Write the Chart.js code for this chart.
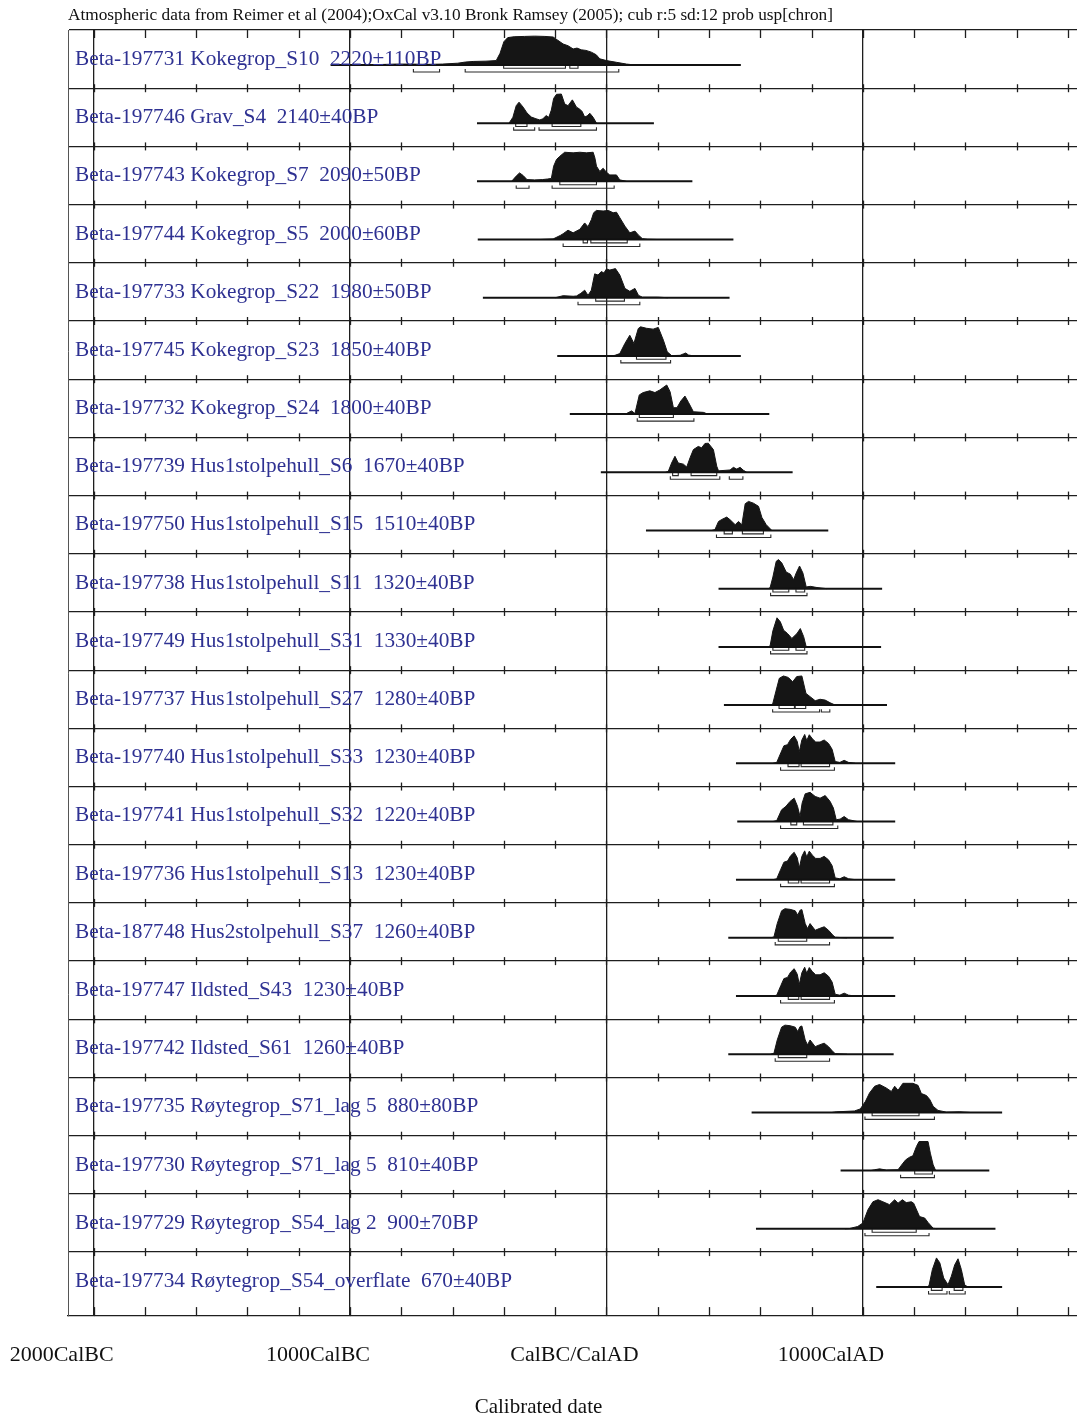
<!DOCTYPE html>
<html>
<head>
<meta charset="utf-8">
<title>OxCal multiplot</title>
<script src="https://cdn.jsdelivr.net/npm/chart.js@4.4.1/dist/chart.umd.min.js"></script>
<style>
    html, body { margin: 0; padding: 0; background: #fff; }
    canvas { display: block; }
</style>
</head>
<body>
<canvas id="graficoOxcal" width="1077" height="1416"></canvas>
<script>
const header = 'Atmospheric data from Reimer et al (2004);OxCal v3.10 Bronk Ramsey (2005); cub r:5 sd:12 prob usp[chron]';
const axisTitle = 'Calibrated date';

const sampleLabels = [
    'Beta-197731 Kokegrop_S10  2220±110BP',
    'Beta-197746 Grav_S4  2140±40BP',
    'Beta-197743 Kokegrop_S7  2090±50BP',
    'Beta-197744 Kokegrop_S5  2000±60BP',
    'Beta-197733 Kokegrop_S22  1980±50BP',
    'Beta-197745 Kokegrop_S23  1850±40BP',
    'Beta-197732 Kokegrop_S24  1800±40BP',
    'Beta-197739 Hus1stolpehull_S6  1670±40BP',
    'Beta-197750 Hus1stolpehull_S15  1510±40BP',
    'Beta-197738 Hus1stolpehull_S11  1320±40BP',
    'Beta-197749 Hus1stolpehull_S31  1330±40BP',
    'Beta-197737 Hus1stolpehull_S27  1280±40BP',
    'Beta-197740 Hus1stolpehull_S33  1230±40BP',
    'Beta-197741 Hus1stolpehull_S32  1220±40BP',
    'Beta-197736 Hus1stolpehull_S13  1230±40BP',
    'Beta-187748 Hus2stolpehull_S37  1260±40BP',
    'Beta-197747 Ildsted_S43  1230±40BP',
    'Beta-197742 Ildsted_S61  1260±40BP',
    'Beta-197735 Røytegrop_S71_lag 5  880±80BP',
    'Beta-197730 Røytegrop_S71_lag 5  810±40BP',
    'Beta-197729 Røytegrop_S54_lag 2  900±70BP',
    'Beta-197734 Røytegrop_S54_overflate  670±40BP'
];

// year axis (negative = BC)
const majorYears = [-2000, -1000, 0, 1000];
const majorLabels = ['2000CalBC', '1000CalBC', 'CalBC/CalAD', '1000CalAD'];
const minorYears = [-2000, -1800, -1600, -1400, -1200, -1000, -800, -600, -400, -200,
    0, 200, 400, 600, 800, 1000, 1200, 1400, 1600, 1800];

// plotted range of every row [from, to]
const spans = [
    [-1076, 524], [-505, 185], [-505, 335], [-502, 495], [-482, 480], [-192, 524],
    [-143, 635], [-22, 726], [154, 865], [437, 1075], [437, 1071], [458, 1094],
    [505, 1126], [510, 1126], [505, 1126], [475, 1120], [505, 1126], [475, 1120],
    [566, 1543], [913, 1493], [583, 1517], [1052, 1543]
];

// 68.2% ranges
const sigma1 = [
    [[-401, -160], [-143, -111]], [[-354, -310], [-212, -100]], [[-182, -39]],
    [[-91, -74], [-61, 81]], [[-42, 70]], [[117, 232]], [[128, 261]],
    [[258, 280], [330, 430]], [[459, 491], [530, 612]], [[649, 711], [739, 773]],
    [[649, 711], [739, 773]], [[673, 733], [736, 777]], [[708, 751], [759, 870]],
    [[719, 742], [768, 883]], [[709, 750], [759, 870]], [[670, 781]],
    [[709, 750], [759, 870]], [[670, 781]], [[1036, 1219]], [[1202, 1271]],
    [[1036, 1208]], [[1267, 1309], [1356, 1390]]
];

// 95.4% ranges
const sigma2 = [
    [[-753, -651], [-551, 48]], [[-362, -280], [-263, -39]], [[-352, -302], [-212, 30]],
    [[-169, 130]], [[-111, 130]], [[56, 250]], [[120, 341]], [[249, 442], [479, 532]],
    [[429, 641]], [[640, 782]], [[640, 782]], [[648, 831], [838, 871]], [[679, 889]],
    [[679, 902]], [[679, 889]], [[658, 870]], [[679, 889]], [[658, 870]],
    [[1008, 1279]], [[1147, 1279]], [[1008, 1258]], [[1256, 1328], [1337, 1399]]
];

// probability curves [year, % of peak]
const d1 = [[-1050,0],[-900,1],[-820,3],[-760,3],[-700,2],[-640,3],[-580,6],[-550,10],[-520,12],[-470,13],[-430,15],[-415,40],[-400,80],[-385,94],[-360,97],[-320,98],[-280,99],[-240,98],[-208,96],[-190,85],[-169,72],[-150,66],[-130,55],[-115,58],[-98,52],[-80,50],[-59,44],[-40,35],[-26,21],[0,15],[39,9],[78,3],[110,0]];
const d2 = [[-380,0],[-365,20],[-352,60],[-341,72],[-325,55],[-310,35],[-293,21],[-275,15],[-260,11],[-248,15],[-235,26],[-225,20],[-215,45],[-206,85],[-195,99],[-176,100],[-163,66],[-150,60],[-133,80],[-117,55],[-104,48],[-95,40],[-85,21],[-75,25],[-65,34],[-52,20],[-39,0]];
const d3 = [[-370,0],[-352,18],[-339,29],[-325,20],[-310,6],[-280,5],[-250,6],[-230,8],[-215,10],[-206,52],[-195,75],[-182,86],[-163,100],[-130,98],[-104,100],[-78,98],[-52,100],[-45,80],[-39,52],[-26,34],[-13,45],[0,31],[13,22],[39,22],[52,5],[78,0]];
const d4 = [[-260,0],[-208,2],[-180,14],[-169,20],[-150,32],[-130,23],[-104,35],[-85,57],[-72,44],[-59,68],[-50,92],[-39,100],[-13,98],[7,100],[26,92],[39,94],[52,75],[72,46],[91,23],[111,29],[125,15],[140,3],[160,1],[200,0]];
const d5 = [[-200,0],[-169,7],[-130,5],[-117,6],[-100,15],[-85,26],[-72,8],[-59,26],[-46,82],[-33,78],[-20,90],[-10,85],[0,99],[13,95],[35,100],[52,78],[72,32],[91,22],[111,32],[125,8],[140,2],[200,2],[240,0]];
const d6 = [[20,0],[33,2],[52,8],[72,43],[91,71],[107,43],[124,94],[133,100],[156,95],[182,92],[202,98],[222,54],[237,14],[254,1],[287,2],[300,7],[309,10],[320,3],[340,0]];
const d7 = [[60,0],[78,2],[98,11],[111,2],[128,66],[143,74],[169,80],[189,74],[208,83],[235,100],[248,77],[261,22],[275,22],[290,45],[306,62],[320,40],[339,8],[378,6],[395,0]];
const d8 = [[230,0],[241,3],[254,32],[267,55],[280,32],[300,28],[313,18],[326,50],[339,78],[358,89],[371,84],[384,99],[397,100],[417,78],[430,21],[437,5],[482,8],[495,17],[508,11],[521,17],[534,7],[547,0]];
const d9 = [[410,0],[423,3],[437,31],[450,38],[469,46],[482,37],[502,20],[515,31],[528,20],[541,92],[554,100],[573,94],[593,83],[606,45],[623,20],[645,0]];
const d10 = [[630,0],[638,3],[649,40],[662,94],[671,100],[684,88],[701,57],[717,50],[730,31],[740,54],[753,78],[766,54],[779,6],[795,8],[821,4],[860,0]];
const d11 = [[630,0],[638,3],[649,55],[665,100],[678,86],[691,57],[706,46],[723,29],[743,46],[756,63],[769,35],[779,0]];
const d12 = [[635,0],[648,3],[661,48],[674,92],[690,100],[709,95],[726,80],[742,98],[762,100],[778,40],[794,29],[814,15],[833,20],[853,17],[872,8],[892,0]];
const d13 = [[650,0],[664,3],[680,36],[692,60],[706,64],[718,82],[732,94],[744,75],[752,40],[762,80],[773,99],[781,78],[791,98],[803,84],[816,73],[833,73],[849,80],[866,68],[880,48],[892,6],[910,3],[927,10],[944,3],[970,0]];
const d14 = [[650,0],[664,3],[683,40],[700,52],[716,69],[732,80],[745,52],[755,17],[763,63],[775,95],[794,100],[814,86],[833,80],[853,89],[872,69],[885,46],[896,6],[911,8],[927,17],[944,6],[977,0]];
const d15 = d13;
const d16 = [[640,0],[653,3],[666,49],[683,93],[696,100],[716,98],[736,93],[746,78],[755,95],[762,97],[775,49],[784,32],[794,49],[814,26],[830,32],[849,38],[866,26],[883,9],[892,2],[938,0]];
const d17 = d13;
const d18 = d16;
const d19 = [[880,0],[896,2],[967,5],[990,12],[1010,38],[1026,67],[1046,90],[1065,96],[1091,84],[1111,72],[1124,90],[1137,76],[1156,100],[1176,100],[1195,100],[1215,93],[1228,65],[1248,58],[1261,44],[1274,21],[1293,7],[1326,1],[1378,2],[1417,0]];
const d20 = [[1030,0],[1046,3],[1065,6],[1091,2],[1137,3],[1154,23],[1167,37],[1182,46],[1195,51],[1209,83],[1219,100],[1254,100],[1263,60],[1274,20],[1284,0]];
const d21 = [[930,0],[948,1],[980,8],[1000,20],[1020,66],[1039,93],[1059,100],[1078,93],[1104,83],[1124,100],[1137,88],[1154,100],[1169,90],[1189,93],[1198,88],[1221,42],[1241,37],[1254,22],[1274,2],[1290,0]];
const d22 = [[1250,0],[1258,5],[1271,60],[1287,100],[1300,83],[1315,31],[1332,8],[1345,37],[1358,76],[1371,97],[1384,60],[1397,7],[1410,0]];

const curves = [d1, d2, d3, d4, d5, d6, d7, d8, d9, d10, d11, d12, d13, d14, d15, d16, d17, d18, d19, d20, d21, d22];

// row geometry, in row units of the y scale
const BASE = 0.6;     // baseline below the row top
const PEAK = 0.5;     // height of a full peak
const LEVEL1 = 0.058; // 68% bracket under baseline
const LEVEL2 = 0.12;  // 95% bracket under baseline
const HOOK = 0.05;    // bracket end hooks

const SERIF = '"Liberation Serif", "Times New Roman", serif';

function addBracket(arr, r, y) {
    arr.push({x: r[0], y: y - HOOK}, {x: r[0], y: y}, {x: r[1], y: y}, {x: r[1], y: y - HOOK}, {x: r[1], y: null});
}

function buildDatasets() {
    const sets = [];
    curves.forEach((curve, i) => {
        const base = i + BASE;
        const br = [];
        sigma1[i].forEach(r => addBracket(br, r, base + LEVEL1));
        sigma2[i].forEach(r => addBracket(br, r, base + LEVEL2));
        sets.push({
            data: spans[i].map(v => ({x: v, y: base})),
            borderColor: '#111',
            borderWidth: 2,
            fill: false
        });
        sets.push({
            data: br,
            borderColor: '#2a2a2a',
            borderWidth: 1.1,
            fill: false,
            spanGaps: false
        });
        sets.push({
            data: curve.map(p => ({x: p[0], y: base - p[1] / 100 * PEAK})),
            fill: {value: base},
            backgroundColor: '#151515',
            borderColor: '#151515',
            borderWidth: 1
        });
    });
    return sets;
}

// tick marks on row lines + row labels + axis title
const decorPlugin = {
    id: 'decor',
    afterDatasetsDraw(chart) {
        const {ctx, chartArea, scales: {x, y}} = chart;
        ctx.save();
        ctx.strokeStyle = '#1e1e1e';
        ctx.lineWidth = 1.3;
        const rows = sampleLabels.length;
        for (let r = 0; r <= rows; r++) {
            const py = r === rows ? chartArea.bottom : y.getPixelForValue(r);
            const up = r === 0 ? 0 : (r === rows ? 9 : 4);
            const down = r === 0 ? 8 : (r === rows ? 0 : 4);
            minorYears.forEach(v => {
                const px = Math.round(x.getPixelForValue(v)) + 0.5;
                ctx.beginPath();
                ctx.moveTo(px, py - up);
                ctx.lineTo(px, py + down);
                ctx.stroke();
            });
        }

        ctx.font = '21.3px ' + SERIF;
        ctx.fillStyle = '#2e3192';
        ctx.textAlign = 'left';
        ctx.textBaseline = 'alphabetic';
        sampleLabels.forEach((txt, i) => {
            ctx.fillText(txt, chartArea.left + 7, y.getPixelForValue(i + BASE));
        });

        ctx.font = '21px ' + SERIF;
        ctx.fillStyle = '#111';
        ctx.textAlign = 'center';
        ctx.fillText(axisTitle, chart.width / 2, 1413);
        ctx.restore();
    }
};

function dibujarGrafico() {
    const ctx = document.getElementById('graficoOxcal').getContext('2d');
    new Chart(ctx, {
        type: 'line',
        data: {
            datasets: buildDatasets()
        },
        options: {
            responsive: false,
            animation: false,
            layout: {
                padding: {left: 68, right: 0, top: 0, bottom: 21.5}
            },
            elements: {
                point: {radius: 0, hoverRadius: 0},
                line: {tension: 0}
            },
            scales: {
                x: {
                    type: 'linear',
                    position: 'bottom',
                    min: -2100,
                    max: 1835,
                    afterBuildTicks: scale => {
                        scale.ticks = majorYears.map(v => ({value: v}));
                    },
                    grid: {
                        color: '#1e1e1e',
                        lineWidth: 1.3,
                        drawTicks: false
                    },
                    border: {display: true, color: '#1e1e1e', width: 1.3},
                    ticks: {
                        autoSkip: false,
                        maxRotation: 0,
                        padding: 26,
                        labelOffset: -32,
                        color: '#111',
                        font: {family: SERIF, size: 22},
                        callback: (value, index) => majorLabels[index]
                    }
                },
                y: {
                    type: 'linear',
                    reverse: true,
                    min: 0,
                    max: 22.1,
                    afterBuildTicks: scale => {
                        scale.ticks = sampleLabels.map((_, i) => ({value: i}));
                    },
                    grid: {
                        color: '#1e1e1e',
                        lineWidth: 1.3,
                        drawTicks: false
                    },
                    border: {display: true, color: '#555', width: 1},
                    ticks: {display: false}
                }
            },
            plugins: {
                legend: {display: false},
                tooltip: {enabled: false},
                title: {
                    display: true,
                    text: header,
                    align: 'start',
                    color: '#111',
                    font: {family: SERIF, size: 17.3, weight: 'normal', lineHeight: 1.1},
                    padding: {top: 6, bottom: 5}
                }
            }
        },
        plugins: [decorPlugin]
    });
}

document.addEventListener('DOMContentLoaded', () => {
    dibujarGrafico();
});
</script>
</body>
</html>
